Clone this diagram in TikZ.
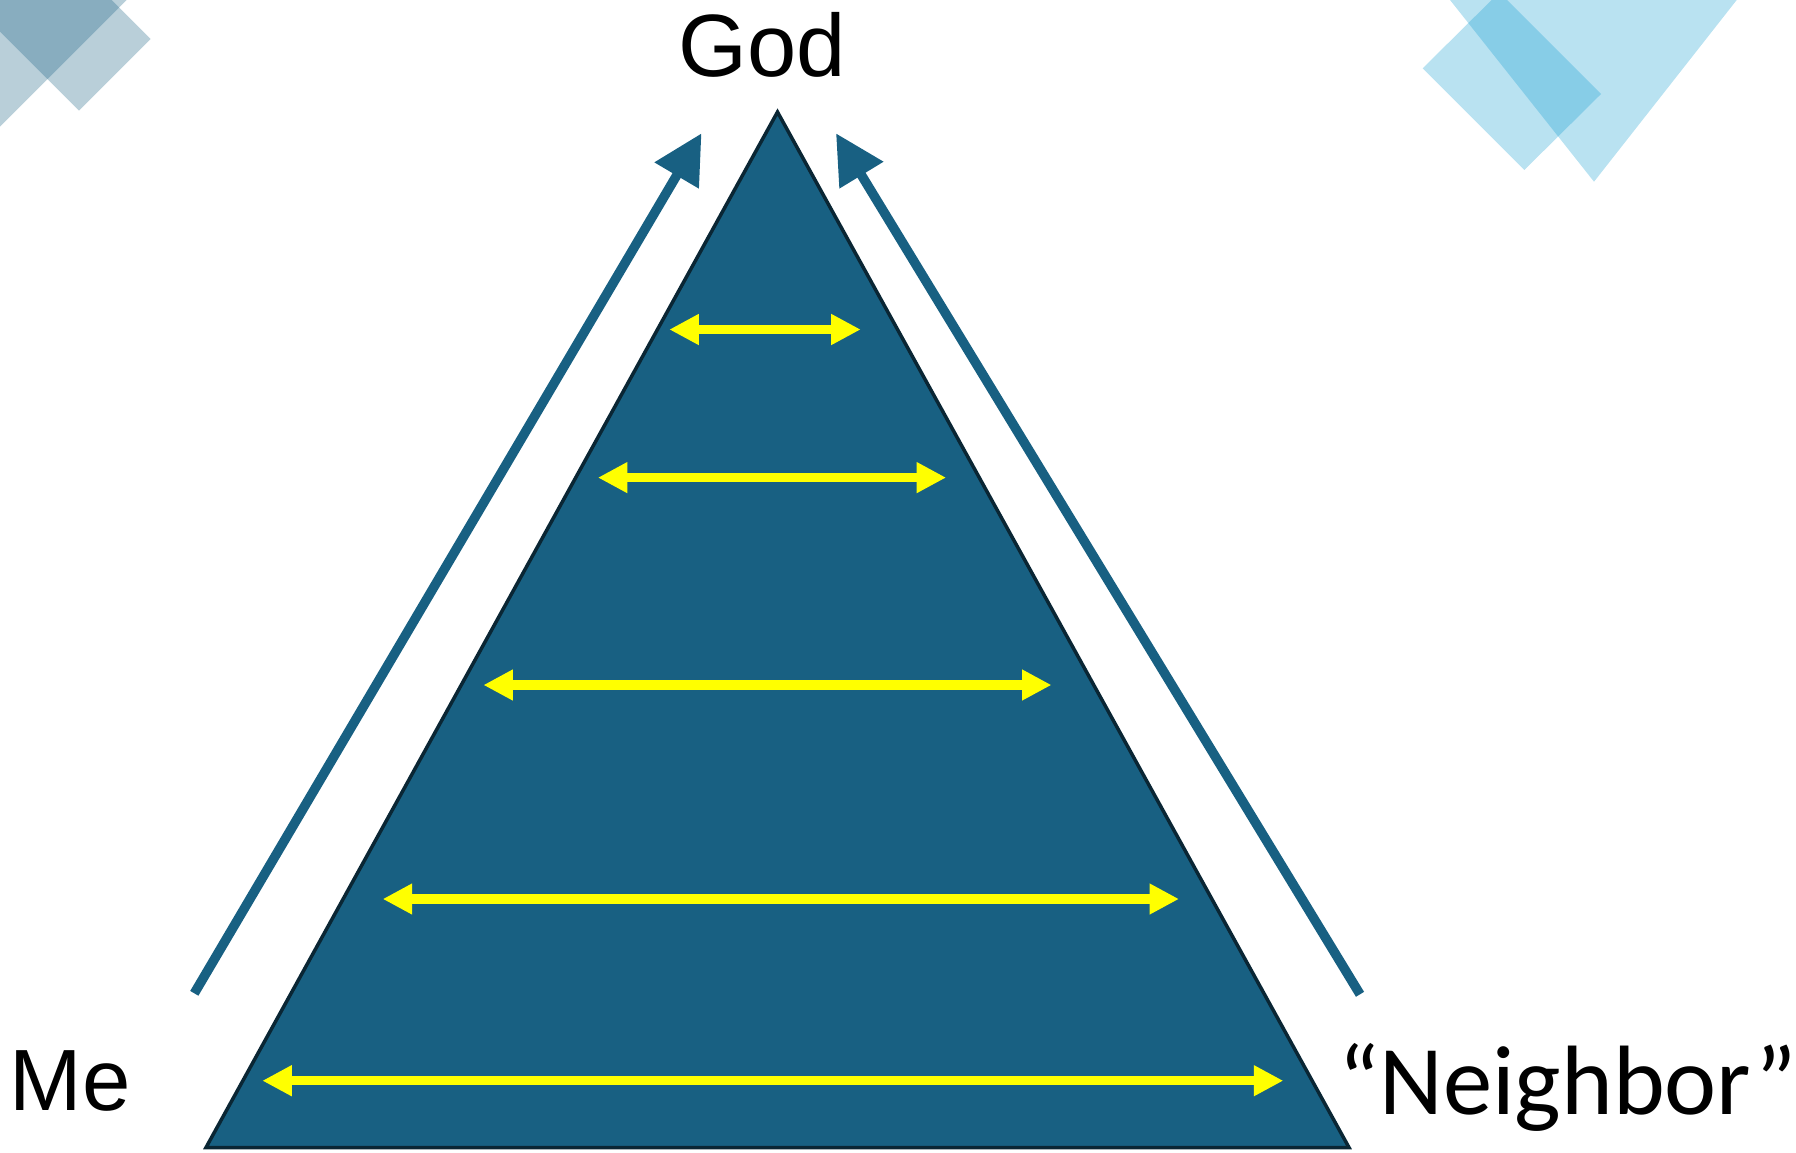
\documentclass[tikz,border=0pt]{standalone}
\usepackage{fontspec}
\newfontfamily\arialf{Liberation Sans}
\newfontfamily\calf{Carlito}
\usetikzlibrary{arrows.meta}
\definecolor{pyr}{RGB}{24,96,130}
\definecolor{pyrline}{RGB}{10,38,52}
\definecolor{skyb}{RGB}{22,158,208}
\definecolor{yel}{RGB}{255,255,0}
\tikzset{
  deco/.style={fill=#1, fill opacity=0.3, draw=none},
  climb/.style={draw=pyr, line width=9.5bp, -{Triangle[length=49bp,width=49bp]}},
  relate/.style={draw=yel, line width=9.5bp, {Triangle[length=29.5bp,width=29bp]}-{Triangle[length=29.5bp,width=29bp]}},
  lbl/.style={inner sep=0pt, text=black},
  pyramid/.style={fill=pyr, draw=pyrline, line width=3.5bp, line join=miter},
}
\begin{document}
\begin{tikzpicture}[x=1bp,y=-1bp]
\useasboundingbox (0,0) rectangle (1796,1152);
\clip (0,0) rectangle (1796,1152);
% decorations top-left
\fill[deco=pyr] (79,110.7) -- (150.7,39) -- (0.7,-111) -- (-71,-39.3) -- cycle;
\fill[deco=pyr] (-60,-60) -- (186.7,-60) -- (-60,186.7) -- cycle;
% decorations top-right
\fill[deco=skyb] (1434.2,-20) -- (1752.4,-20) -- (1594,181.7) -- cycle;
\fill[deco=skyb] (1422.7,68.3) -- (1524.3,170) -- (1601,94) -- (1499.4,-7.7) -- cycle;
% pyramid
\coordinate (apex) at (777.5,112);
\coordinate (bl) at (206,1147.5);
\coordinate (br) at (1349,1147.5);
\draw[pyramid] (apex) -- (bl) -- (br) -- cycle;
% labels
\node[lbl, font=\arialf\fontsize{88.5bp}{100bp}\selectfont, anchor=base] (god) at (762.5,76.7) {God};
\node[lbl, font=\arialf\fontsize{87bp}{100bp}\selectfont, anchor=base west] (me) at (9.5,1110.7) {Me};
\node[lbl, font=\calf\fontsize{98.6bp}{110bp}\selectfont, anchor=base west] (nb) at (1338,1114) {“Neighbor”};
% climbing arrows
\coordinate (meS) at (194.3,993.3);
\coordinate (godL) at (701.5,133.3);
\coordinate (nbS) at (1360,994.3);
\coordinate (godR) at (836,133.3);
\draw[climb] (meS) -- (godL);
\draw[climb] (nbS) -- (godR);
% relation arrows
\coordinate (a1) at (669.3,329.5);  \coordinate (b1) at (860.7,329.5);
\coordinate (a2) at (597.9,477.6);  \coordinate (b2) at (946.1,477.6);
\coordinate (a3) at (483.4,685);    \coordinate (b3) at (1051.5,685);
\coordinate (a4) at (382.7,899);    \coordinate (b4) at (1179,899);
\coordinate (a5) at (262.3,1080.7); \coordinate (b5) at (1283.3,1080.7);
\draw[relate] (a1) -- (b1);
\draw[relate] (a2) -- (b2);
\draw[relate] (a3) -- (b3);
\draw[relate] (a4) -- (b4);
\draw[relate] (a5) -- (b5);
\end{tikzpicture}
\end{document}
